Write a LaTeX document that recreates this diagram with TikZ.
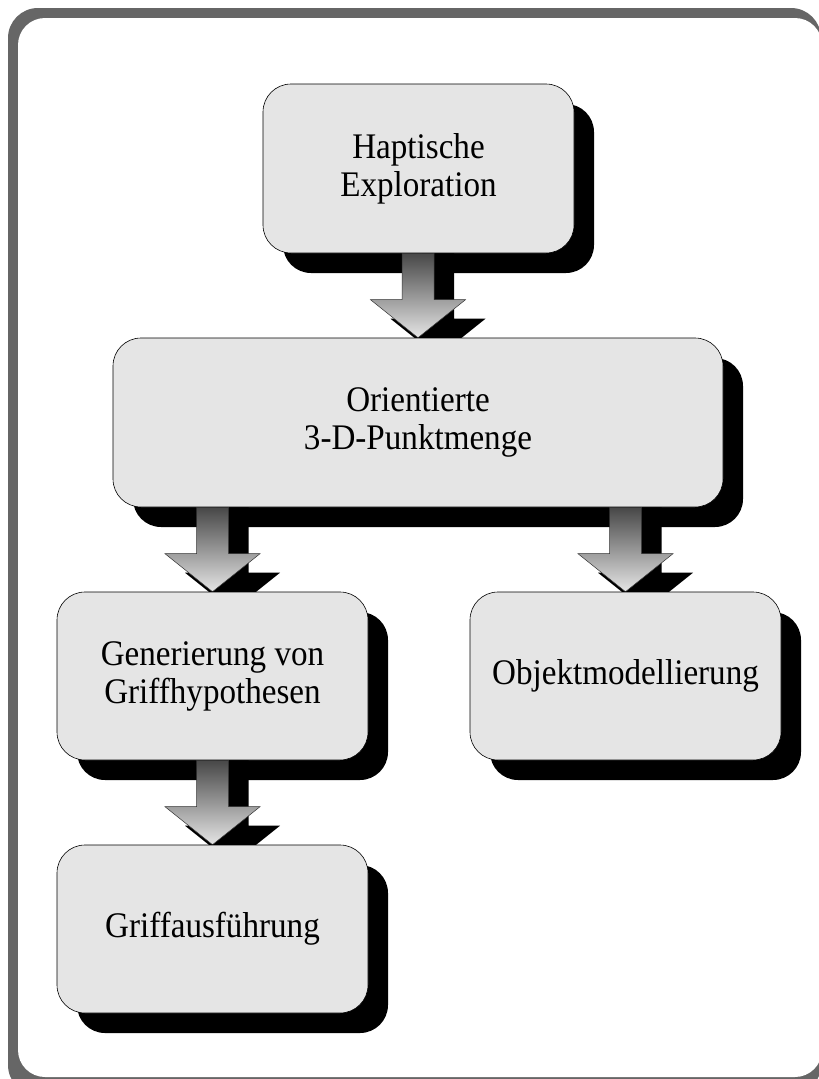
\documentclass[tikz,border=0pt]{standalone}
\usepackage{fontspec}
\setmainfont[FakeStretch=0.92]{Liberation Serif}
\usetikzlibrary{calc,shadows}

\pgfdeclarelayer{arrowsA}
\pgfdeclarelayer{boxesB}
\pgfdeclarelayer{arrowsB}
\pgfdeclarelayer{boxesC}
\pgfdeclarelayer{arrowsC}
\pgfdeclarelayer{boxesD}
\pgfsetlayers{main,arrowsA,boxesB,arrowsB,boxesC,arrowsC,boxesD}

\tikzset{
  stage/.style={draw=black, line width=0.6pt, fill=black!10,
    rounded corners=28pt, inner sep=0pt,
    minimum width=311pt, minimum height=169pt, align=center,
    font=\fontsize{36}{38}\selectfont,
    drop shadow={shadow xshift=20pt, shadow yshift=-20pt, fill=black, opacity=1}},
  flowshadow/.style={fill=black},
  flowbody/.style={draw=black!80, line width=0.5pt,
    top color=black!72, bottom color=black!10},
  frameshade/.style={fill=black!60, rounded corners=30pt},
  framepage/.style={fill=white, rounded corners=27pt}
}

% block arrow from the bottom of #1 down to the top of #2, with a black shadow
\newcommand\flowarrow[2]{%
  \path[flowshadow] let \p1=(#1.south -| #2.north), \p2=(#2.north) in
    (\x1+4pt,\y1) -- (\x1+36pt,\y1) -- (\x1+36pt,\y2+19pt)
    -- (\x1+67.5pt,\y2+19pt) -- (\x2+20pt,\y2-19pt)
    -- (\x1-27.5pt,\y2+19pt) -- (\x1+4pt,\y2+19pt) -- cycle;
  \path[flowbody] let \p1=(#1.south -| #2.north), \p2=(#2.north) in
    (\x1-16pt,\y1) -- (\x1+16pt,\y1) -- (\x1+16pt,\y2+38pt)
    -- (\x1+47.5pt,\y2+38pt) -- (\x2,\y2)
    -- (\x1-47.5pt,\y2+38pt) -- (\x1-16pt,\y2+38pt) -- cycle;
}

\begin{document}
\begin{tikzpicture}[x=1pt,y=-1pt]
  \useasboundingbox (0,0) rectangle (819,1079);
  \fill[white] (0,0) rectangle (819,1079);

  % page with a grey edge, thick at the top and left
  \begin{scope}
    \clip (0,0) rectangle (819,1079);
    \path[frameshade] (8,8) rectangle (821,1095);
    \path[framepage] (18,18) rectangle (822,1077);
  \end{scope}

  % stages, each on a layer above the arrow that points into it
  \node[stage] (explore) at (418.5,168.5) {Haptische\\Exploration};
  \begin{pgfonlayer}{boxesB}
    \node[stage, minimum width=610pt] (points) at (418,422.5) {Orientierte\\3-D-Punktmenge};
  \end{pgfonlayer}
  \begin{pgfonlayer}{boxesC}
    \node[stage, minimum height=168pt] (grasps) at (212.5,676) {Generierung von\\Griffhypothesen};
    \node[stage, minimum height=168pt] (model) at (625.5,676) {Objektmodellierung};
  \end{pgfonlayer}
  \begin{pgfonlayer}{boxesD}
    \node[stage, minimum height=168pt] (execute) at (212.5,929) {Griffausführung};
  \end{pgfonlayer}

  % block arrows
  \begin{pgfonlayer}{arrowsA}
    \flowarrow{explore}{points}
  \end{pgfonlayer}
  \begin{pgfonlayer}{arrowsB}
    \flowarrow{points}{grasps}
    \flowarrow{points}{model}
  \end{pgfonlayer}
  \begin{pgfonlayer}{arrowsC}
    \flowarrow{grasps}{execute}
  \end{pgfonlayer}
\end{tikzpicture}
\end{document}
